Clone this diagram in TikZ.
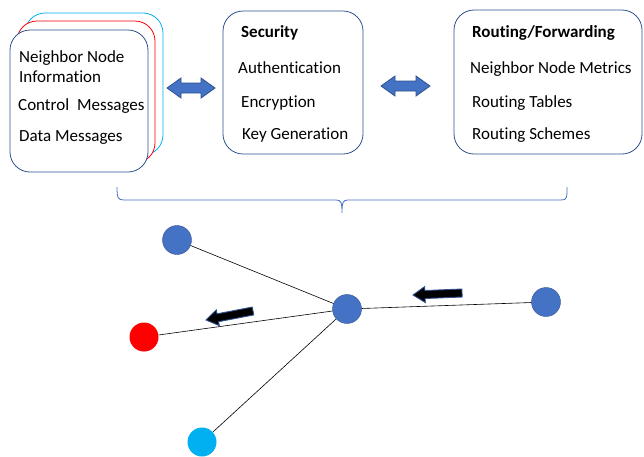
\documentclass[tikz,border=0pt]{standalone}
\usepackage{fontspec}
\setmainfont{Carlito}[Ligatures=NoCommon]
\usetikzlibrary{calc}
\definecolor{mblue}{HTML}{4472C4}
\definecolor{dblue}{HTML}{2F528F}
\definecolor{mcyan}{HTML}{00B0F0}
\begin{document}
\begin{tikzpicture}[x=1pt,y=-1pt,
  card/.style={draw=#1,line width=0.8pt,rounded corners=20pt,fill=white},
  txt/.style={anchor=base west,inner sep=0pt,font=\fontsize{17}{20}\selectfont},
  ttl/.style={txt,font=\fontsize{17}{20}\selectfont\bfseries},
  dot/.style={circle,minimum size=29pt,inner sep=0pt,fill=#1},
  link/.style={black,line width=0.6pt},
  blockarr/.style={fill=mblue,draw=dblue,line width=0.8pt},
  darkarr/.style={fill=black,draw=dblue,line width=0.9pt,line join=miter},
  bracestyle/.style={mblue,line width=0.8pt}]
\useasboundingbox (0,0) rectangle (644,456);

% stacked cards
\draw[card=mcyan] (25,13) rectangle (163,155);
\draw[card=red] (17,21) rectangle (155,163);
\draw[card=dblue] (10,30) rectangle (148,172);
\node[txt] (n1) at (19,62) {Neighbor Node};
\node[txt] (n2) at (19,82) {Information};
\node[txt] (n3) at (18,110) {Control\hspace{8pt}Messages};
\node[txt] (n4) at (19,141) {Data Messages};

% security
\draw[card=dblue] (223,11) rectangle (363,154);
\node[ttl] (s0) at (241,37) {Security};
\node[txt] (s1) at (238,73) {Authentication};
\node[txt] (s2) at (241,107) {Encryption};
\node[txt] (s3) at (242,139) {Key Generation};

% routing
\draw[card=dblue] (454,10) rectangle (642,154);
\node[ttl] (r0) at (472,37) {Routing/Forwarding};
\node[txt] (r1) at (470,73) {Neighbor Node Metrics};
\node[txt] (r2) at (472,107) {Routing Tables};
\node[txt] (r3) at (472,139) {Routing Schemes};

% double arrows
\draw[blockarr] (167,88) -- (181,78) -- (181,83) -- (201,83) -- (201,78) -- (215,88)
  -- (201,98) -- (201,93) -- (181,93) -- (181,98) -- cycle;
\draw[blockarr] (381,86) -- (395,76) -- (395,81) -- (416,81) -- (416,76) -- (430,86)
  -- (416,96) -- (416,91) -- (395,91) -- (395,96) -- cycle;

% brace
\draw[bracestyle] (117,187) .. controls (117,198) and (118,200) .. (124,200) -- (336,200)
  .. controls (341,200) and (342,202) .. (342,213)
  .. controls (342,202) and (343,200) .. (348,200) -- (561,200)
  .. controls (567,200) and (567,198) .. (567,187);

% network
\node[dot=mblue,draw=dblue] (tl) at (177,240) {};
\node[dot=mblue,draw=dblue] (c) at (347,309) {};
\node[dot=mblue,draw=dblue] (rt) at (546,302) {};
\node[dot=red] (rd) at (144,337) {};
\node[dot=mcyan] (cy) at (202,442) {};
\draw[link] (tl) -- (c);
\draw[link] (rd) -- (c);
\draw[link] (cy) -- (c);
\draw[link] (c) -- (rt);

% dark arrows
\coordinate (a1tip) at (413,295);
\coordinate (a1tail) at (462,293);
\coordinate (h1) at ($(a1tip)!12pt!(a1tail)$);
\draw[darkarr] (a1tip) -- ($(h1)!8pt!90:(a1tail)$) -- ($(h1)!4pt!90:(a1tail)$)
  -- ($(a1tail)!4pt!-90:(h1)$) -- ($(a1tail)!4pt!90:(h1)$)
  -- ($(h1)!4pt!-90:(a1tail)$) -- ($(h1)!8pt!-90:(a1tail)$) -- cycle;
\coordinate (a2tip) at (206,320);
\coordinate (a2tail) at (253,311);
\coordinate (h2) at ($(a2tip)!12pt!(a2tail)$);
\draw[darkarr] (a2tip) -- ($(h2)!8pt!90:(a2tail)$) -- ($(h2)!4pt!90:(a2tail)$)
  -- ($(a2tail)!4pt!-90:(h2)$) -- ($(a2tail)!4pt!90:(h2)$)
  -- ($(h2)!4pt!-90:(a2tail)$) -- ($(h2)!8pt!-90:(a2tail)$) -- cycle;
\end{tikzpicture}
\end{document}
